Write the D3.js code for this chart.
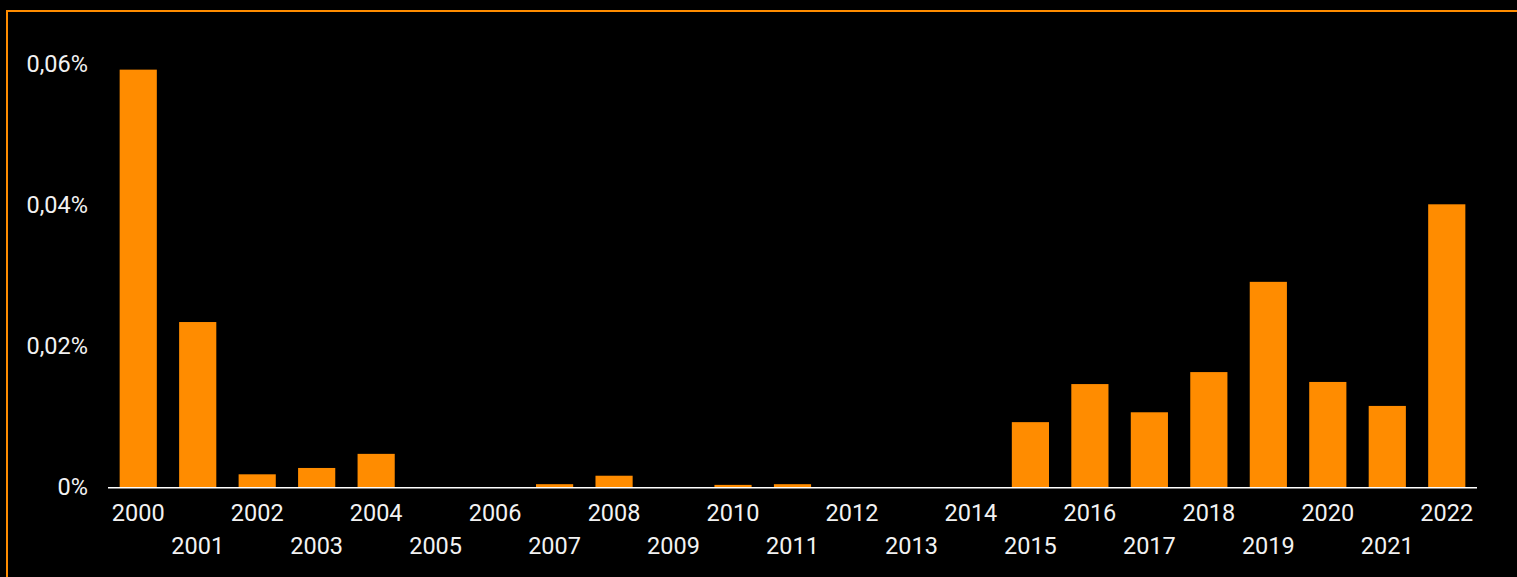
<!DOCTYPE html>
<html lang="en">
<head>
    <meta charset="UTF-8">
    <title>Yearly share</title>
    <script src="https://cdnjs.cloudflare.com/ajax/libs/d3/7.8.5/d3.min.js"></script>
    <style>
        body {
            margin: 0;
            padding: 0;
            background: #000;
            overflow: hidden;
        }
        text {
            font-family: Roboto, "Noto Sans", sans-serif;
            fill: #f2f2f2;
        }
    </style>
</head>
<body>
    <svg id="chart" width="1517" height="577" style="display:block"></svg>

    <script>
        // chart data
        const years = ['2000', '2001', '2002', '2003', '2004', '2005', '2006', '2007', '2008', '2009', '2010', '2011',
            '2012', '2013', '2014', '2015', '2016', '2017', '2018', '2019', '2020', '2021', '2022'];
        const shares = [0.0592, 0.0234, 0.0018, 0.0027, 0.0047, 0, 0, 0.0004, 0.0016, 0, 0.0003, 0.0004,
            0, 0, 0, 0.0092, 0.0146, 0.0106, 0.0163, 0.0291, 0.0149, 0.0115, 0.0401];
        const yTicks = [0, 0.02, 0.04, 0.06];
        const yTickLabels = ['0%', '0,02%', '0,04%', '0,06%'];

        const svg = d3.select('#chart');

        // frame: only top and left edges fall inside the window
        svg.append('path')
            .attr('d', 'M7,577V11H1517')
            .attr('fill', 'none')
            .attr('stroke', '#ff8c00')
            .attr('stroke-width', 2);

        const x = d3.scaleBand()
            .domain(years)
            .range([108.5, 1476.5])
            .paddingInner(0.375)
            .paddingOuter(0.1875);

        const y = d3.scaleLinear()
            .domain([0, 0.06])
            .range([487, 64]);

        // bars
        svg.append('g')
            .selectAll('rect')
            .data(years)
            .join('rect')
            .attr('x', d => x(d))
            .attr('width', x.bandwidth())
            .attr('y', (d, i) => y(shares[i]))
            .attr('height', (d, i) => y(0) - y(shares[i]))
            .attr('fill', '#ff8c00');

        // y labels (no axis line)
        svg.append('g')
            .selectAll('text')
            .data(yTicks)
            .join('text')
            .attr('x', 88)
            .attr('y', d => y(d))
            .attr('dy', '0.35em')
            .attr('text-anchor', 'end')
            .style('font-size', '23.5px')
            .text((d, i) => yTickLabels[i]);

        // x axis line
        svg.append('line')
            .attr('x1', 108)
            .attr('x2', 1477)
            .attr('y1', y(0) + 0.75)
            .attr('y2', y(0) + 0.75)
            .attr('stroke', '#fff')
            .attr('stroke-width', 1.5);

        // x labels, staggered on two rows
        svg.append('g')
            .selectAll('text')
            .data(years)
            .join('text')
            .attr('x', d => x(d) + x.bandwidth() / 2)
            .attr('y', (d, i) => i % 2 === 0 ? 513 : 546)
            .attr('dy', '0.35em')
            .attr('text-anchor', 'middle')
            .style('font-size', '23.5px')
            .text(d => d);
    </script>
</body>
</html>
